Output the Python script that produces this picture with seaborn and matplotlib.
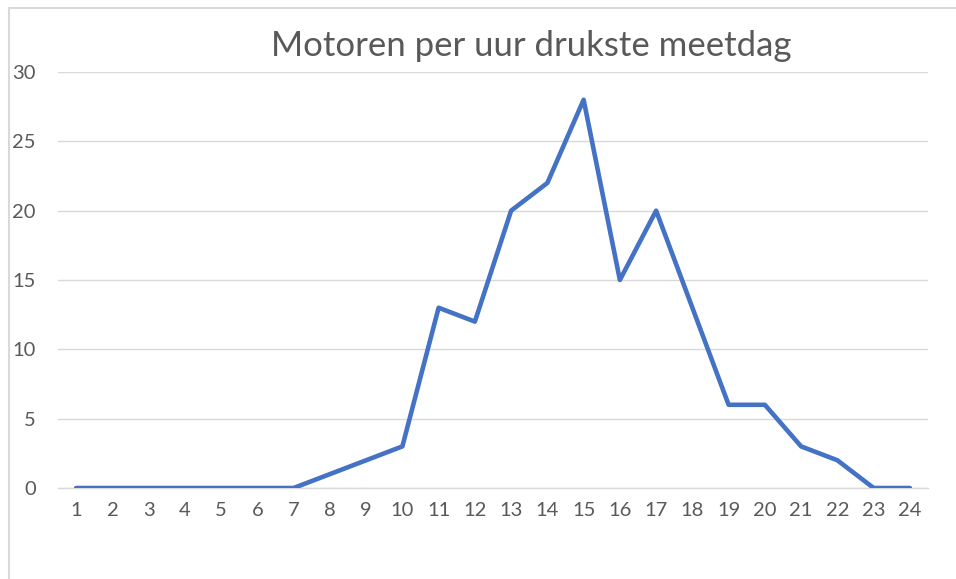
import numpy as np
import pandas as pd
import seaborn as sns
import matplotlib.pyplot as plt
from matplotlib.patches import Rectangle

# data: motoren per uur op de drukste meetdag
uren = list(range(1, 25))
motoren = [0, 0, 0, 0, 0, 0, 0, 1, 2, 3, 13, 12, 20, 22, 28, 15, 20, 13, 6, 6, 3, 2, 0, 0]
yticks = [0, 5, 10, 15, 20, 25, 30]

df = pd.DataFrame({"uur": uren, "motoren": motoren})

sns.set_style("white")
plt.rcParams['font.family'] = ['Lato', 'DejaVu Sans']

fig = plt.figure(figsize=(9.56, 5.79), dpi=100)
ax = fig.add_axes([58/956, 1-488/579, 870/956, 416/579])

sns.lineplot(x="uur", y="motoren", data=df, ax=ax, color="#4472C4", linewidth=3.3, zorder=3)

ax.set_xlim(0.5, 24.5)
ax.set_ylim(0, 30)
ax.set_xticks(uren)
ax.set_yticks(yticks)
ax.set_xticklabels([str(u) for u in uren])
ax.yaxis.grid(True, color="#D9D9D9", linewidth=1)
ax.xaxis.grid(False)
for s in ["top", "right", "left"]:
    ax.spines[s].set_visible(False)
ax.spines["bottom"].set_color("#D9D9D9")
ax.spines["bottom"].set_linewidth(1)
ax.tick_params(axis="both", length=0, labelsize=14.5, labelcolor="#595959")
ax.tick_params(axis="y", pad=16)
ax.tick_params(axis="x", pad=10)
ax.set_xlabel("")
ax.set_ylabel("")

fig.text(531/956, 1-46/579, "Motoren per uur drukste meetdag", ha="center", va="center",
         fontsize=25, color="#595959")

# kader rond de grafiek
fig.patches.append(Rectangle((9/956, -0.1), 1.2, 1.1 - 8/579, transform=fig.transFigure,
                             fill=False, edgecolor="#D9D9D9", linewidth=1.5))

fig.savefig("out.png", dpi=100)
